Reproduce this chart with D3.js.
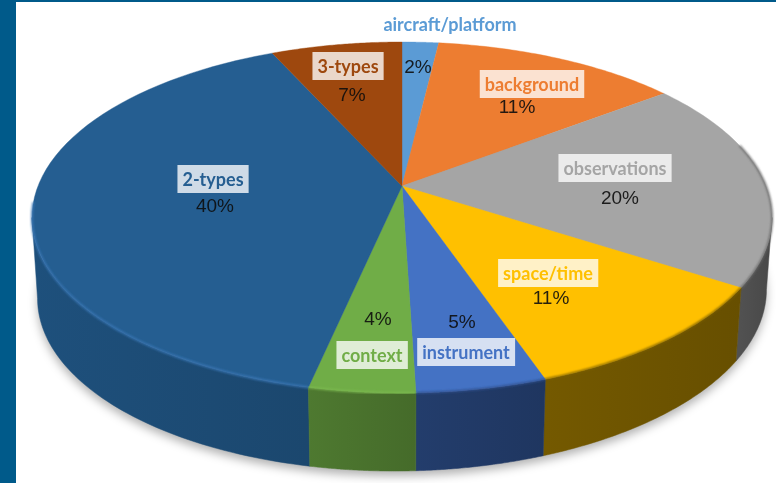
<!DOCTYPE html>
<html><head><meta charset="utf-8">
<script src="https://cdn.jsdelivr.net/npm/d3@7/dist/d3.min.js"></script>
<style>html,body{margin:0;padding:0;background:#fff;overflow:hidden}svg{display:block;filter:blur(.5px)}</style>
</head><body><svg id="c" width="776" height="483"></svg>
<script>
const categories=["aircraft/platform","background","observations","space/time","instrument","context","2-types","3-types"];
const sliceShares=[1.9,12.8,19.4,10.6,4.8,3.9,39.8,6.8];
const percentLabels=["2%","11%","20%","11%","5%","4%","40%","7%"];
const topColors=["#5b9bd5","#ed7d31","#a5a5a5","#ffc000","#4472c4","#70ad47","#255e91","#9e480e"];
const wallColors=["#35597b","#8a4a1d","#4b4b4b","#6b5200","#203864","#48702c","#1c4a73","#5e2b08"];
const rimColors=["#7db0e0","#f39a5c","#6a6a6a","#7a5e00","#2f4f8c","#7dbb50","#3a78b8","#b8601f"];
const nameAnchors=[[450,24],[532,84],[615,168],[548,273],[466,352],[372,355],[213,179],[348,66]];
const pctAnchors=[[418,66],[517,106],[620,197],[551,297],[462,321],[378,318],[215,205],[352,94]];
const boxed=[false,true,true,true,true,true,true,true];

const svg=d3.select("#c");
const defs=svg.append("defs");
defs.append("filter").attr("id","shadow").attr("x","-10%").attr("y","-10%").attr("width","120%").attr("height","130%")
  .append("feGaussianBlur").attr("stdDeviation",5);
defs.append("filter").attr("id","soft").append("feGaussianBlur").attr("stdDeviation",1);

svg.append("rect").attr("x",0).attr("y",0).attr("width",776).attr("height",2).attr("fill","#005a8a");
svg.append("rect").attr("x",0).attr("y",0).attr("width",16).attr("height",483).attr("fill","#005a8a");

// perspective projection of the unit disc
const CX=402,CY=186,K=0.1795,A=-136.46,D=364,SCALE_B=0.985;
const project=(t)=>{const u=Math.sin(t),v=Math.cos(t),w=1+K*v;
  return [CX+D*u/w,(CY+A*v)/w];};
const projectBottom=(t)=>{const p=project(t),v=Math.cos(t),u=Math.sin(t);
  return [CX+(p[0]-CX)*SCALE_B,p[1]+76-2*v-4.5*u];};
const samples=(a,b,f)=>d3.range(0,61).map(i=>f(a+(b-a)*i/60));
const line=d3.line();

const arcs=d3.pie().sort(null).value(d=>d)(sliceShares);

// shadow under the body
const rim=d3.range(0,181).map(i=>projectBottom(i/180*2*Math.PI));
svg.append("path").attr("d",line(rim)+"Z").attr("fill","#000").attr("fill-opacity",.3)
  .attr("transform","translate(0,5)").attr("filter","url(#shadow)");

// side walls: the rim between the two silhouette tangents of the projected disc
const clip=(a,b,lo0,hi0)=>{const lo=Math.max(a,lo0),hi=Math.min(b,hi0);return lo<hi?[lo,hi]:null;};
const tangent=Math.acos(-K);
const wallRange=(a,b)=>clip(a,b,tangent,2*Math.PI-tangent);
const bevelRange=(a,b)=>clip(a,b,Math.PI*0.42,Math.PI*1.47);
const order=d3.range(arcs.length).sort((i,j)=>Math.abs(arcs[j].startAngle+arcs[j].endAngle-2*Math.PI)-Math.abs(arcs[i].startAngle+arcs[i].endAngle-2*Math.PI));
order.forEach(i=>{const d=arcs[i],r=wallRange(d.startAngle,d.endAngle);if(!r)return;
  const pts=samples(r[0],r[1],project).concat(samples(r[0],r[1],projectBottom).reverse());
  const id="wall"+i,g=defs.append("linearGradient").attr("id",id).attr("gradientUnits","userSpaceOnUse")
    .attr("x1",project(r[1])[0]).attr("x2",project(r[0])[0]).attr("y1",0).attr("y2",0);
  const base=d3.color(wallColors[i]);
  g.append("stop").attr("offset",0).attr("stop-color",base.brighter(.22));
  g.append("stop").attr("offset",1).attr("stop-color",base.darker(.12));
  svg.append("path").attr("d",line(pts)+"Z").attr("fill",`url(#${id})`).attr("stroke",`url(#${id})`).attr("stroke-width",.5);
});

// top faces
arcs.forEach((d,i)=>{
  const pts=[[CX,CY]].concat(samples(d.startAngle,d.endAngle,project));
  svg.append("path").attr("d",line(pts)+"Z").attr("fill",topColors[i]).attr("stroke",topColors[i]).attr("stroke-width",.4);
});
// bevel along the front rim
arcs.forEach((d,i)=>{const r=bevelRange(d.startAngle,d.endAngle);if(!r)return;
  svg.append("path").attr("d",line(samples(r[0],r[1],project))).attr("fill","none")
    .attr("stroke",rimColors[i]).attr("stroke-width",1.8).attr("filter","url(#soft)");
});

// labels
const nameFont="Lato, 'Open Sans', sans-serif";
categories.forEach((c,i)=>{
  const [x,y]=nameAnchors[i];
  const g=svg.append("g");
  const t=g.append("text").attr("x",x).attr("y",y).attr("text-anchor","middle").attr("dominant-baseline","central")
    .attr("font-family",nameFont).attr("font-weight",700).attr("font-size",18)
    .attr("fill",topColors[i]).text(c);
  if(boxed[i]){const b=t.node().getBBox();
    g.insert("rect","text").attr("x",b.x-5).attr("y",y-14).attr("width",b.width+10).attr("height",28)
      .attr("fill","#fff").attr("fill-opacity",.78);}
  const [px,py]=pctAnchors[i];
  svg.append("text").attr("x",px).attr("y",py).attr("text-anchor","middle").attr("dominant-baseline","central")
    .attr("font-family","'Liberation Sans', Arial, sans-serif").attr("font-size",19)
    .attr("fill","#0d0d0d").attr("fill-opacity",.9).text(percentLabels[i]);
});
</script></body></html>
